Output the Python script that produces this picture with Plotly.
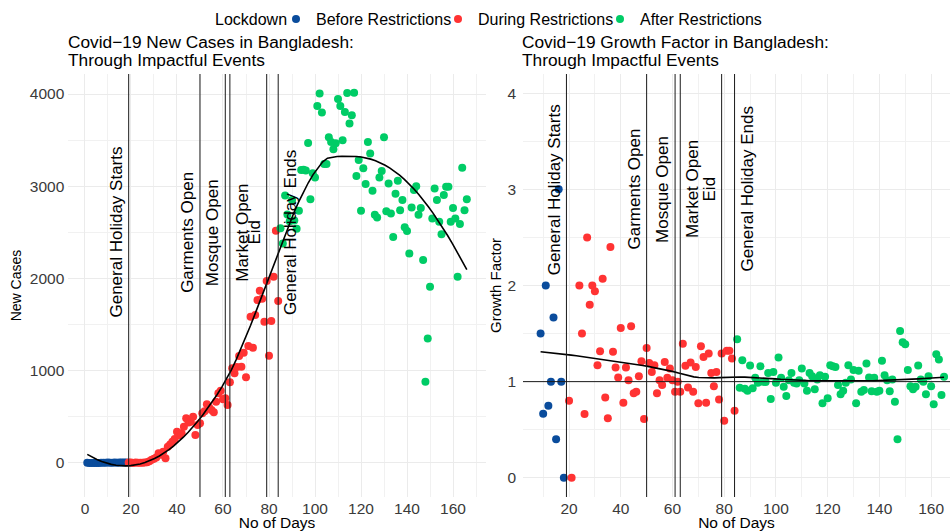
import numpy as np
import plotly.graph_objects as go

W, H = 950, 531

# ---------------- daily new cases ----------------
case_days_before = list(range(1, 19))
cases_before = [3, 0, 0, 0, 0, 0, 2, 3, 2, 4, 1, 3, 4, 3, 6, 6, 6, 5]

case_days_during = list(range(19, 85))
cases_during = [5, 4, 0, 5, 3, 2, 3, 6, 9, 18, 35, 45, 60, 105, 90, 122, 51, 177,
                200, 231, 260, 339, 300, 321, 393, 484, 440, 447, 502, 303, 412,
                430, 538, 560, 636, 600, 574, 549, 664, 755, 783, 690, 701, 628,
                874, 1026, 972, 1040, 1159, 1043, 1195, 928, 1268, 1585, 1249,
                1603, 1766, 1867, 1780, 1530, 1972, 1162, 1540, 2018, 2517, 1755]

case_days_after = list(range(85, 167))
cases_after = [2545, 2380, 2900, 2695, 2620, 2850, 2630, 2540, 2735, 3175, 3180,
               3170, 3470, 2860, 3140, 3095, 3870, 4005, 3800, 3240, 3240, 3530,
               3480, 3400, 3465, 3945, 3870, 3500, 3805, 4010, 3680, 3770, 4015,
               3110, 3285, 2735, 3195, 3025, 3480, 3355, 2950, 2690, 2660, 3095,
               3165, 3530, 2730, 3030, 2705, 2450, 2920, 3060, 2740, 2850, 2555,
               2515, 2270, 2770, 2960, 3000, 2690, 2765, 2200, 880, 1350, 1910,
               2650, 2975, 2850, 2615, 2480, 2905, 2995, 2995, 2615, 2765, 2650,
               2020, 2590, 3200, 2740, 2860]

# ---------------- daily growth factor ----------------
gf_days_before = list(range(9, 19))
gf_before = [1.5, 0.667, 2.0, 0.75, 1.0, 1.667, 0.4, 3.0, 1.0, 0.0]

gf_days_during = [20, 21] + list(range(24, 85))
gf_during = [0.80, 0.0, 2.0, 1.5, 0.663, 2.5, 1.8, 2.0, 1.94, 1.17, 1.316, 2.07,
             0.836, 0.62, 2.40, 1.31, 1.147, 1.043, 1.557, 0.78, 1.147, 1.015,
             1.575, 0.878, 0.894, 1.057, 1.212, 0.611, 1.35, 1.195, 1.10, 1.17,
             0.878, 1.015, 0.964, 1.205, 1.04, 1.137, 1.015, 0.894, 1.0, 0.894,
             1.395, 1.164, 0.94, 1.2, 0.894, 1.153, 0.774, 1.368, 1.257, 0.78,
             1.292, 1.091, 0.953, 1.10, 0.815, 1.292, 0.594, 1.32, 1.32, 1.24,
             0.697]

gf_days_after = list(range(85, 166))
gf_after = [1.44, 0.936, 1.223, 0.925, 0.905, 1.168, 0.93, 1.04, 0.988, 1.16,
            1.0, 0.995, 1.09, 0.82, 1.10, 0.988, 1.25, 1.04, 0.946, 0.85,
            1.015, 1.09, 0.988, 0.98, 1.015, 1.137, 0.98, 0.905, 1.09, 1.057,
            0.92, 1.023, 1.067, 0.774, 1.05, 0.826, 1.17, 1.16, 1.153, 0.964,
            0.87, 0.905, 0.988, 1.17, 1.023, 1.12, 0.774, 1.112, 0.894, 0.912,
            1.188, 1.043, 0.90, 1.04, 0.894, 0.905, 1.216, 1.067, 1.015, 0.90,
            1.023, 0.79, 0.40, 1.527, 1.41, 1.39, 1.12, 0.953, 0.92, 0.946,
            1.168, 1.023, 1.0, 0.87, 1.057, 0.953, 0.764, 1.285, 1.23, 0.86,
            1.05]

# ---------------- events ----------------
event_days = [19, 50, 61, 63, 79, 84]
event_labels = ["General Holiday Starts", "Garments Open", "Mosque Open",
                "Market Open", "Eid", "General Holiday Ends"]
# which side of its line each label sits on
event_sides = ["before", "before", "before", "after", "before", "after"]

phase_names = ["Before Restrictions", "During Restrictions", "After Restrictions"]
phase_colors = ["#0A4C9C", "#FF3333", "#00CC66"]

FONT = "Liberation Sans, Arial, Helvetica, sans-serif"


def loess(x, y, span=0.75, n_out=80):
    """Local quadratic regression with tricube weights (R's loess defaults)."""
    x = np.asarray(x, float)
    y = np.asarray(y, float)
    n = len(x)
    q = int(np.floor(n * span))
    grid = np.linspace(x.min(), x.max(), n_out)
    fit = []
    for x0 in grid:
        d = np.abs(x - x0)
        h = np.sort(d)[q - 1]
        w = np.clip(1 - (d / h) ** 3, 0, None) ** 3
        X = np.column_stack([np.ones(n), x - x0, (x - x0) ** 2])
        sw = np.sqrt(w)
        beta, *_ = np.linalg.lstsq(X * sw[:, None], y * sw, rcond=None)
        fit.append(beta[0])
    return grid, np.array(fit)


fig = go.Figure()

case_groups = [(case_days_before, cases_before), (case_days_during, cases_during),
               (case_days_after, cases_after)]
gf_groups = [(gf_days_before, gf_before), (gf_days_during, gf_during),
             (gf_days_after, gf_after)]

for (dx, dy), name, col in zip(case_groups, phase_names, phase_colors):
    fig.add_trace(go.Scatter(x=dx, y=dy, mode="markers", name=name,
                             marker=dict(color=col, size=8, line=dict(width=0)),
                             xaxis="x", yaxis="y", legendgroup=name))
for (dx, dy), name, col in zip(gf_groups, phase_names, phase_colors):
    fig.add_trace(go.Scatter(x=dx, y=dy, mode="markers", name=name,
                             marker=dict(color=col, size=8, line=dict(width=0)),
                             xaxis="x2", yaxis="y2", legendgroup=name,
                             showlegend=False))

all_case_x = case_days_before + case_days_during + case_days_after
all_case_y = cases_before + cases_during + cases_after
sx, sy = loess(all_case_x, all_case_y)
fig.add_trace(go.Scatter(x=sx, y=sy, mode="lines", line=dict(color="black", width=1.6),
                         xaxis="x", yaxis="y", showlegend=False, hoverinfo="skip"))

all_gf_x = gf_days_before + gf_days_during + gf_days_after
all_gf_y = gf_before + gf_during + gf_after
gx, gy = loess(all_gf_x, all_gf_y)
fig.add_trace(go.Scatter(x=gx, y=gy, mode="lines", line=dict(color="black", width=1.6),
                         xaxis="x2", yaxis="y2", showlegend=False, hoverinfo="skip"))

# vertical event lines and reference line at growth factor 1
shapes = []
for d in event_days:
    for xr in ("x", "x2"):
        yr = "y domain" if xr == "x" else "y2 domain"
        shapes.append(dict(type="line", xref=xr, yref=yr, x0=d, x1=d, y0=0, y1=1,
                           line=dict(color="#1a1a1a", width=1)))
shapes.append(dict(type="line", xref="x2 domain", yref="y2", x0=0, x1=1, y0=1, y1=1,
                   line=dict(color="#1a1a1a", width=1)))

annotations = []
for d, lab, side in zip(event_days, event_labels, event_sides):
    for xr, yr, yv in (("x", "y", 2500), ("x2", "y2", 3)):
        annotations.append(dict(x=d, y=yv, xref=xr, yref=yr, text=lab, textangle=-90,
                                xanchor="right" if side == "before" else "left",
                                xshift=-1 if side == "before" else 1,
                                yanchor="middle", showarrow=False,
                                font=dict(size=17, color="black", family=FONT)))

# panel titles
for x0, lines in ((68, ["Covid\u221219 New Cases in Bangladesh:", "Through Impactful Events"]),
                  (522, ["Covid\u221219 Growth Factor in Bangladesh:", "Through Impactful Events"])):
    for yp, t in zip((42, 60), lines):
        annotations.append(dict(x=x0 / W, y=1 - yp / H, xref="paper", yref="paper",
                                text=t, showarrow=False, xanchor="left", yanchor="middle",
                                xshift=-2,
                                font=dict(size=17.3, color="black", family=FONT)))

# legend heading
annotations.append(dict(x=289 / W, y=1 - 19 / H, xref="paper", yref="paper",
                        text="Lockdown", showarrow=False, xanchor="right",
                        yanchor="middle", font=dict(size=16, color="black", family=FONT)))

grid_major = "#EBEBEB"
grid_minor = "#F1F1F1"
tickfont = dict(size=15.5, color="#3A3A3A", family=FONT)
xtitlefont = dict(size=15.5, color="black", family=FONT)

ydom = [1 - 497 / H, 1 - 74 / H]

common_axis = dict(showline=False, zeroline=False, ticks="", automargin=False,
                   gridcolor=grid_major, gridwidth=1.1, tickfont=tickfont)

fig.update_layout(
    width=W, height=H,
    margin=dict(l=0, r=0, t=0, b=0),
    paper_bgcolor="white", plot_bgcolor="white",
    font=dict(family=FONT, color="black"),
    xaxis=dict(domain=[68.3 / W, 485.8 / W], range=[-7.25, 174.25],
               tick0=0, dtick=20,
               minor=dict(dtick=10, showgrid=True, gridcolor=grid_minor, gridwidth=0.7),
               title=dict(text="No of Days", font=xtitlefont, standoff=2),
               anchor="y", **common_axis),
    yaxis=dict(domain=ydom, range=[-369, 4217], tick0=0, dtick=1000,
               minor=dict(dtick=500, showgrid=True, gridcolor=grid_minor, gridwidth=0.7),
               title=dict(text="New Cases", standoff=4,
                          font=dict(size=14, color="black", family=FONT)),
               ticklabelstandoff=3,
               anchor="x", **common_axis),
    xaxis2=dict(domain=[523 / W, 1.0], range=[2.2, 167.3],
                tick0=0, dtick=20,
                minor=dict(dtick=10, showgrid=True, gridcolor=grid_minor, gridwidth=0.7),
                title=dict(text="No of Days", font=xtitlefont, standoff=2),
                anchor="y2", **common_axis),
    yaxis2=dict(domain=ydom, range=[-0.2, 4.2], tick0=0, dtick=1,
                minor=dict(dtick=0.5, showgrid=True, gridcolor=grid_minor, gridwidth=0.7),
                title=dict(text="Growth Factor", standoff=2,
                           font=dict(size=15, color="black", family=FONT)),
                ticklabelstandoff=6,
                anchor="x2", **common_axis),
    legend=dict(orientation="h", x=276 / W, xanchor="left", y=1 - 19 / H,
                yanchor="middle", font=dict(size=16, color="black", family=FONT),
                entrywidth=117, itemwidth=30, bgcolor="rgba(0,0,0,0)"),
    shapes=shapes,
    annotations=annotations,
    showlegend=True,
)

fig.write_html("out.html")
